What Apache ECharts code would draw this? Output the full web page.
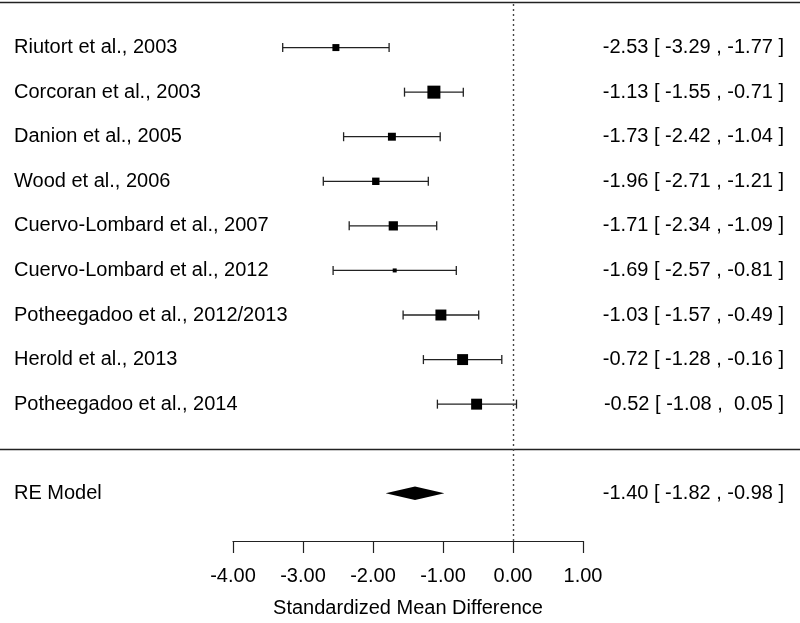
<!DOCTYPE html>
<html>
<head>
<meta charset="utf-8">
<script src="https://cdn.jsdelivr.net/npm/echarts@6/dist/echarts.min.js"></script>
<style>
  html, body { margin: 0; padding: 0; background: #fff; }
  #chart { width: 800px; height: 623px; }
</style>
</head>
<body>
<div id="chart"></div>
<script>
// ---- data ----
const studies = [
  'Riutort et al., 2003',
  'Corcoran et al., 2003',
  'Danion et al., 2005',
  'Wood et al., 2006',
  'Cuervo-Lombard et al., 2007',
  'Cuervo-Lombard et al., 2012',
  'Potheegadoo et al., 2012/2013',
  'Herold et al., 2013',
  'Potheegadoo et al., 2014'
];
const estimates = [-2.53, -1.13, -1.73, -1.96, -1.71, -1.69, -1.03, -0.72, -0.52];
const lowers    = [-3.29, -1.55, -2.42, -2.71, -2.34, -2.57, -1.57, -1.28, -1.08];
const uppers    = [-1.77, -0.71, -1.04, -1.21, -1.09, -0.81, -0.49, -0.16, 0.05];
// study weights (%)
const weights   = [10.2, 13.4, 10.7, 10.4, 11.4, 8.6, 12.3, 12.3, 12.3];
const modelLabel = 'RE Model';
const modelEst = -1.40, modelLower = -1.82, modelUpper = -0.98;
const xTicks = [-4, -3, -2, -1, 0, 1];
const xTitle = 'Standardized Mean Difference';

// ---- layout helpers ----
const k = studies.length;
const rows = studies.map((_, i) => k - i);      // 9 .. 1
const modelRow = -1;
const fmt = v => (v < 0 ? '' : ' ') + v.toFixed(2);
const rightText = i => fmt(estimates[i]) + ' [ ' + fmt(lowers[i]) + ' , ' + fmt(uppers[i]) + ' ]';
const modelText = fmt(modelEst) + ' [ ' + fmt(modelLower) + ' , ' + fmt(modelUpper) + ' ]';

const leftMap = {}, rightMap = {};
rows.forEach((r, i) => { leftMap[r] = studies[i]; rightMap[r] = rightText(i); });
leftMap[modelRow] = modelLabel; rightMap[modelRow] = modelText;
const labelRows = rows.concat([modelRow]);

const wMin = Math.min(...weights), wMax = Math.max(...weights);
const sizeOf = w => 4 + (w - wMin) / (wMax - wMin) * 9;

const FONT = 'Liberation Sans, Arial, Helvetica, sans-serif';
const INK = '#222';

const studyData = studies.map((s, i) => [lowers[i], uppers[i], estimates[i], rows[i], sizeOf(weights[i])]);

const chart = echarts.init(document.getElementById('chart'), null, { renderer: 'canvas' });

const yCommon = {
  type: 'value', min: -2.07, max: 10,
  axisLine: { show: false }, axisTick: { show: false }, splitLine: { show: false }
};

chart.setOption({
  animation: false,
  backgroundColor: '#fff',
  textStyle: { fontFamily: FONT },
  grid: { left: 233, right: 217, top: 3, bottom: 82, containLabel: false },
  xAxis: {
    type: 'value', min: xTicks[0], max: xTicks[xTicks.length - 1], interval: 1,
    axisLine: { show: true, onZero: false, lineStyle: { color: INK, width: 1.2 } },
    axisTick: { show: true, length: 12, lineStyle: { color: INK, width: 1.2 } },
    splitLine: { show: false },
    axisLabel: { formatter: v => v.toFixed(2), color: '#000', fontSize: 20, margin: 25, fontFamily: FONT },
    name: xTitle, nameLocation: 'middle', nameGap: 57,
    nameTextStyle: { color: '#000', fontSize: 20, fontFamily: FONT }
  },
  yAxis: [
    Object.assign({}, yCommon, {
      position: 'left',
      axisLabel: {
        customValues: labelRows, formatter: v => leftMap[v] || '',
        align: 'left', margin: 219, color: '#000', fontSize: 20, fontFamily: FONT
      }
    }),
    Object.assign({}, yCommon, {
      position: 'right',
      axisLabel: {
        customValues: labelRows, formatter: v => rightMap[v] || '',
        align: 'right', margin: 201, color: '#000', fontSize: 20, fontFamily: FONT
      }
    })
  ],
  series: [
    {
      type: 'custom',
      name: 'studies',
      clip: false,
      data: studyData,
      renderItem: function (params, api) {
        const lo = api.coord([api.value(0), api.value(3)]);
        const hi = api.coord([api.value(1), api.value(3)]);
        const c = api.coord([api.value(2), api.value(3)]);
        const s = api.value(4);
        const cap = 4.5;
        const ls = { stroke: INK, lineWidth: 1.3 };
        return {
          type: 'group',
          children: [
            { type: 'line', shape: { x1: lo[0], y1: lo[1], x2: hi[0], y2: hi[1] }, style: ls },
            { type: 'line', shape: { x1: lo[0], y1: lo[1] - cap, x2: lo[0], y2: lo[1] + cap }, style: ls },
            { type: 'line', shape: { x1: hi[0], y1: hi[1] - cap, x2: hi[0], y2: hi[1] + cap }, style: ls },
            { type: 'rect', shape: { x: c[0] - s / 2, y: c[1] - s / 2, width: s, height: s }, style: { fill: '#000' } }
          ]
        };
      },
      markLine: {
        silent: true, symbol: 'none', label: { show: false },
        lineStyle: { color: '#444', type: [2, 3], width: 1.4 },
        data: [{ xAxis: 0 }]
      }
    },
    {
      type: 'custom',
      name: 'model',
      clip: false,
      data: [[modelLower, modelUpper, modelEst, modelRow]],
      renderItem: function (params, api) {
        const lo = api.coord([api.value(0), api.value(3)]);
        const hi = api.coord([api.value(1), api.value(3)]);
        const c = api.coord([api.value(2), api.value(3)]);
        const h = 6.7;
        return {
          type: 'polygon',
          shape: { points: [[lo[0], lo[1]], [c[0], c[1] - h], [hi[0], hi[1]], [c[0], c[1] + h]] },
          style: { fill: '#000' }
        };
      }
    }
  ]
});

// horizontal rules at the top row and between studies and model
const yTop = chart.convertToPixel({ yAxisIndex: 0 }, 10);
const ySep = chart.convertToPixel({ yAxisIndex: 0 }, 0);
chart.setOption({
  graphic: [
    { type: 'line', shape: { x1: 0, y1: Math.round(yTop) - 0.5, x2: 800, y2: Math.round(yTop) - 0.5 }, style: { stroke: INK, lineWidth: 1.5 } },
    { type: 'line', shape: { x1: 0, y1: Math.round(ySep) + 0.5, x2: 800, y2: Math.round(ySep) + 0.5 }, style: { stroke: INK, lineWidth: 1.3 } }
  ]
});
</script>
</body>
</html>
